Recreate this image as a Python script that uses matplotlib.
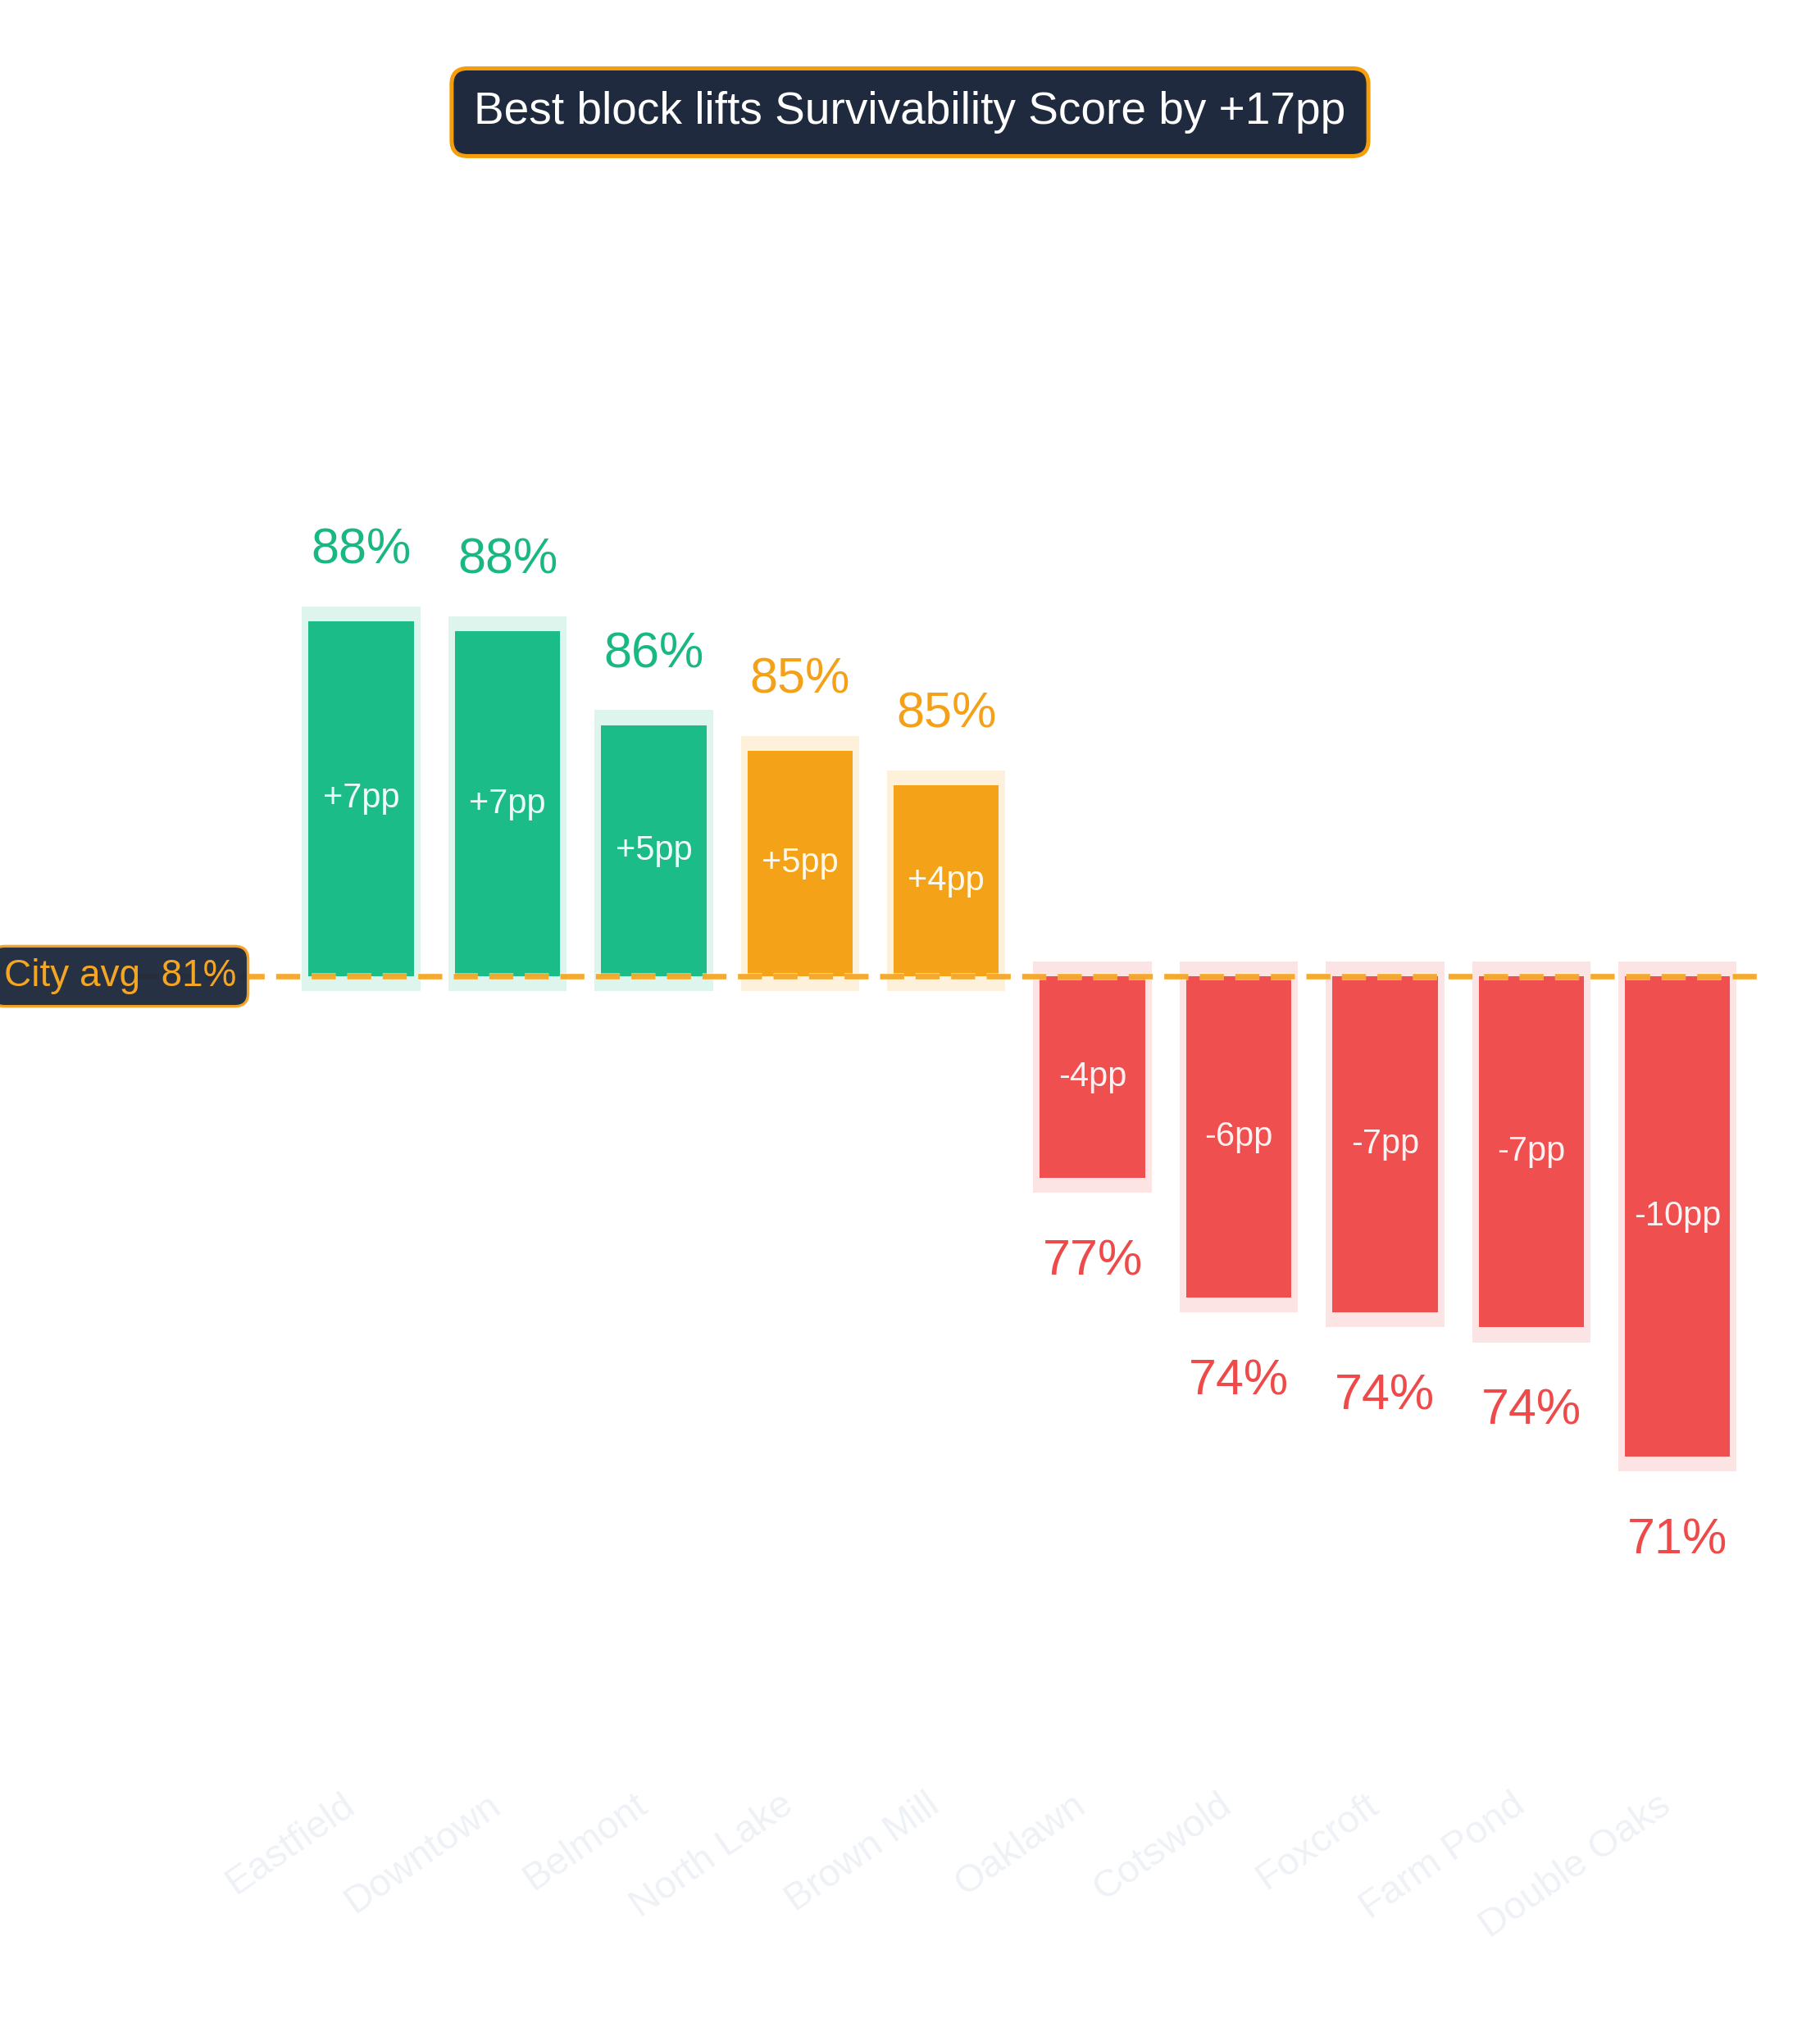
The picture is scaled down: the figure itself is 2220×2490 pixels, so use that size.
import matplotlib
matplotlib.use("Agg")
import matplotlib.pyplot as plt
import matplotlib.transforms as mtransforms
import matplotlib.patheffects as pe

plt.rcParams['font.family'] = ['Liberation Sans', 'DejaVu Sans']

# ---- data ----
neighborhoods = ["Eastfield", "Downtown", "Belmont", "North Lake", "Brown Mill",
                 "Oaklawn", "Cotswold", "Foxcroft", "Farm Pond", "Double Oaks"]
scores = [87.90, 87.70, 85.82, 85.31, 84.62, 76.77, 74.38, 74.08, 73.78, 71.20]
city_avg = 80.80
metric_name = "Survivability Score"

# ---- style ----
GREEN = "#1bbc87"
ORANGE = "#f4a318"
RED = "#f04f4f"
GREEN_TXT = "#19b784"
ORANGE_TXT = "#f4a117"
RED_TXT = "#ee4a4a"
NAVY = "#1f2a3e"
AMBER = "#f5a524"

def colors_for(delta):
    if delta >= 5:
        return GREEN, GREEN_TXT
    if delta > 0:
        return ORANGE, ORANGE_TXT
    return RED, RED_TXT

fig = plt.figure(figsize=(11.1, 12.45), dpi=200)
ax = fig.add_axes([0.0734, 0.1289, 0.8973, 0.7755])

x = list(range(len(neighborhoods)))
deltas = [s - city_avg for s in scores]
pad = 0.3

for xi, s, d in zip(x, scores, deltas):
    col, tcol = colors_for(d)
    sgn = 1 if d >= 0 else -1
    # halo
    ax.bar(xi, d + sgn * 2 * pad, bottom=city_avg - sgn * pad, width=0.81,
           color=col, alpha=0.15, linewidth=0, zorder=1)
    # bar
    ax.bar(xi, d, bottom=city_avg, width=0.72, color=col, linewidth=0, zorder=2)
    # delta label inside the bar
    ax.text(xi, city_avg + d / 2, f"{d:+.0f}pp", ha="center", va="center",
            fontsize=15, color="white", alpha=0.93, zorder=4)
    # value label beyond bar end
    off = 31 if d >= 0 else -37
    ax.annotate(f"{s:.0f}%", xy=(xi, s), xytext=(0, off), textcoords="offset points",
                ha="center", va="center", fontsize=22, color=tcol, zorder=4)

# city average dashed line
ax.axhline(city_avg, color=AMBER, lw=2.4, linestyle=(0, (4.4, 2.1)), zorder=3,
           alpha=0.95,
           path_effects=[pe.Stroke(linewidth=3.2, foreground="white", alpha=0.5), pe.Normal()])

# city avg label box (left of axes)
trans = mtransforms.blended_transform_factory(fig.transFigure, ax.transData)
ax.text(0.1297, city_avg, f"City avg  {city_avg:.0f}%", transform=trans,
        ha="right", va="center", fontsize=16.5, color=AMBER, zorder=6, clip_on=False,
        bbox=dict(boxstyle="round,pad=0.32,rounding_size=0.35", facecolor=NAVY,
                  edgecolor=AMBER, linewidth=1.2, alpha=0.97))

# axes styling
ax.set_xlim(-1.557, 9.61)
ax.set_ylim(64.77, 96.42)
for sp in ax.spines.values():
    sp.set_visible(False)
ax.set_yticks([])
ax.set_xticks(x)
ax.set_xticklabels(neighborhoods, rotation=35, ha="right",
                   fontsize=17, color="#eef1f5")
ax.tick_params(axis="x", length=0, pad=4)

# title badge
lift = max(scores) - min(scores)
fig.text(0.5, 0.945, f"Best block lifts {metric_name} by {lift:+.0f}pp",
         ha="center", va="center", fontsize=19.8, color="white",
         bbox=dict(boxstyle="round,pad=0.5,rounding_size=0.35", facecolor=NAVY,
                   edgecolor="#f59e0b", linewidth=1.8))

fig.savefig("out.png", dpi=200, facecolor="white")
